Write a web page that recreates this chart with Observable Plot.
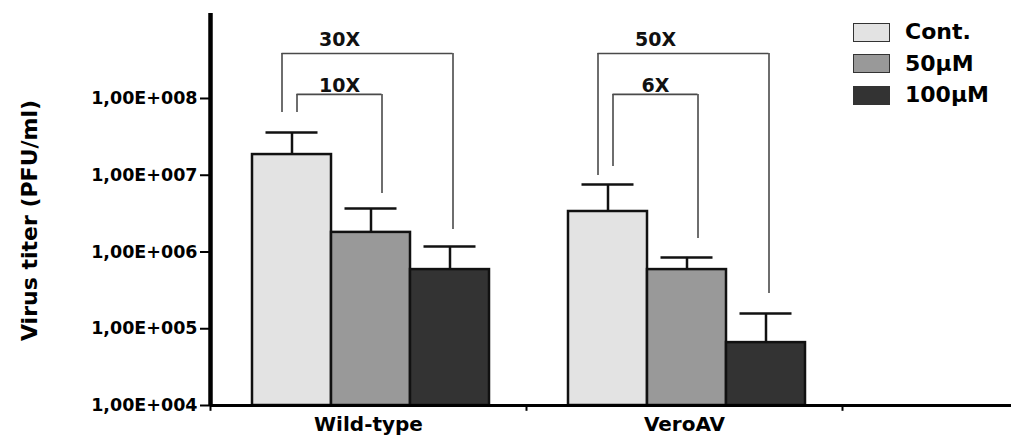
<!DOCTYPE html>
<html>
<head>
<meta charset="utf-8">
<script src="https://cdn.jsdelivr.net/npm/d3@7"></script>
<script src="https://cdn.jsdelivr.net/npm/@observablehq/plot@0.6"></script>
<style>
  html, body { margin: 0; padding: 0; background: #fff; }
  #wrap { position: relative; width: 1011px; height: 438px; overflow: hidden;
          font-family: "DejaVu Sans", sans-serif; font-weight: bold; color: #000; }
  #legend { position: absolute; left: 853px; top: 22px; }
  .row { display: flex; align-items: center; height: 20px; margin-bottom: 11.5px; }
  .sw { width: 35px; height: 17px; border: 1.5px solid #333; }
  .lab { margin-left: 15px; font-size: 22px; line-height: 20px; }
</style>
</head>
<body>
<div id="wrap"><div id="legend"></div></div>
<script>
// ---- data ----
const groups = ["Wild-type", "VeroAV"];
const conditions = ["Cont.", "50µM", "100µM"];
const colors = ["#e3e3e3", "#999999", "#333333"];
const wildTypeMean = [1.86e7, 1.8e6, 5.9e5];
const wildTypeSD   = [1.74e7, 1.89e6, 5.9e5];
const veroMean     = [3.37e6, 5.9e5, 6.6e4];
const veroSD       = [4.2e6, 2.6e5, 9.2e4];
const yTicks = [1e4, 1e5, 1e6, 1e7, 1e8];
const yTickLabels = ["1,00E+004", "1,00E+005", "1,00E+006", "1,00E+007", "1,00E+008"];
const yLabel = "Virus titer (PFU/ml)";
const yDomain = [1e4, 1.28e9];
// fold-change brackets
const bracketGroup   = ["Wild-type", "Wild-type", "VeroAV", "VeroAV"];
const bracketFrom    = [0, 0, 0, 0];
const bracketTo      = [2, 1, 2, 1];
const bracketLabel   = ["30X", "10X", "50X", "6X"];
const bracketTop     = [3.86e8, 1.13e8, 3.86e8, 1.13e8];
const bracketFromEnd = [6.57e7, 6.57e7, 9.9e6, 1.3e7];
const bracketToEnd   = [1.96e6, 5.8e6, 2.88e5, 1.5e6];

// ---- tables ----
const rows = [];
groups.forEach((g, gi) => {
  const m = gi === 0 ? wildTypeMean : veroMean;
  const s = gi === 0 ? wildTypeSD : veroSD;
  conditions.forEach((c, ci) => rows.push({group: g, condition: c, mean: m[ci], sd: s[ci]}));
});
const brackets = bracketGroup.map((g, i) => ({
  group: g, from: bracketFrom[i], to: bracketTo[i], label: bracketLabel[i],
  top: bracketTop[i], fromEnd: bracketFromEnd[i], toEnd: bracketToEnd[i]
}));

// ---- layout constants ----
const W = 1011, H = 438, mL = 210;
const band = 316, barOff = 42, barW = 79;
const center = i => barOff + barW * i + barW / 2; // relative to band start
const bracketStroke = "#4a4a4a";

const marks = [];
// bars + error bars
conditions.forEach((c, i) => {
  const data = rows.filter(r => r.condition === c);
  marks.push(Plot.barY(data, {
    x: "group", y1: () => yDomain[0], y2: "mean",
    insetLeft: barOff + barW * i, insetRight: band - barOff - barW * (i + 1),
    fill: colors[i], stroke: "#111", strokeWidth: 2.5
  }));
  marks.push(Plot.ruleX(data, {
    x: "group", y1: "mean", y2: r => r.mean + r.sd,
    dx: center(i) - band / 2, stroke: "#111", strokeWidth: 2.5
  }));
  marks.push(Plot.tickY(data, {
    x: "group", y: r => r.mean + r.sd,
    insetLeft: center(i) - 26, insetRight: band - center(i) - 26,
    stroke: "#111", strokeWidth: 2.5
  }));
});
// brackets
brackets.forEach(b => {
  const outer = b.to === 2;
  const lx = center(b.from) + (outer ? -10 : 5);
  const rx = center(b.to) + (outer ? 3 : 11);
  marks.push(Plot.ruleX([b], {x: "group", y1: "top", y2: "fromEnd", dx: lx - band / 2, stroke: bracketStroke, strokeWidth: 1.6}));
  marks.push(Plot.ruleX([b], {x: "group", y1: "top", y2: "toEnd", dx: rx - band / 2, stroke: bracketStroke, strokeWidth: 1.6}));
  marks.push(Plot.tickY([b], {x: "group", y: "top", insetLeft: lx, insetRight: band - rx, stroke: bracketStroke, strokeWidth: 1.6}));
  marks.push(Plot.text([b], {
    x: "group", y: "top", text: "label",
    dx: (center(0) + center(1)) / 2 + 8 - band / 2, dy: outer ? -14 : -9,
    fontSize: 19, fontWeight: "bold", fill: "#111"
  }));
});
// axes
marks.push(Plot.ruleY([yDomain[0]], {stroke: "#000", strokeWidth: 3}));
marks.push(Plot.ruleX([groups[0]], {x: d => d, dx: -band / 2, stroke: "#000", strokeWidth: 4.5}));
marks.push(Plot.ruleX([...groups, ""], {x: d => d, dx: -band / 2, y1: () => yDomain[0], y2: () => 8.4e3, stroke: "#000", strokeWidth: 2}));
marks.push(Plot.axisY({
  ticks: yTicks, tickFormat: d => yTickLabels[yTicks.indexOf(d)],
  tickSize: 10, tickPadding: 3, strokeWidth: 2, fontSize: 17.5, fontWeight: "bold", label: null
}));
marks.push(Plot.axisX({tickSize: 0, tickPadding: 11, fontSize: 20, fontWeight: "bold", label: null}));
marks.push(Plot.text([yLabel], {
  frameAnchor: "left", textAnchor: "middle", lineAnchor: "middle", rotate: -90,
  dx: -181, dy: 11, fontSize: 22, fontWeight: "bold", fill: "#000"
}));

const chart = Plot.plot({
  width: W, height: H,
  marginLeft: mL, marginRight: 0, marginTop: 13, marginBottom: 33,
  style: {fontFamily: "DejaVu Sans", fontWeight: "bold", color: "#000", background: "#fff"},
  x: {domain: [...groups, ""], range: [mL, mL + 3 * band], padding: 0, axis: null},
  y: {type: "log", domain: yDomain, axis: null},
  marks
});
const wrap = document.getElementById("wrap");
wrap.insertBefore(chart, wrap.firstChild);

// legend
const legend = document.getElementById("legend");
conditions.forEach((c, i) => {
  const row = document.createElement("div");
  row.className = "row";
  const sw = document.createElement("div");
  sw.className = "sw";
  sw.style.background = colors[i];
  const lab = document.createElement("span");
  lab.className = "lab";
  lab.textContent = c;
  row.appendChild(sw); row.appendChild(lab);
  legend.appendChild(row);
});
</script>
</body>
</html>
